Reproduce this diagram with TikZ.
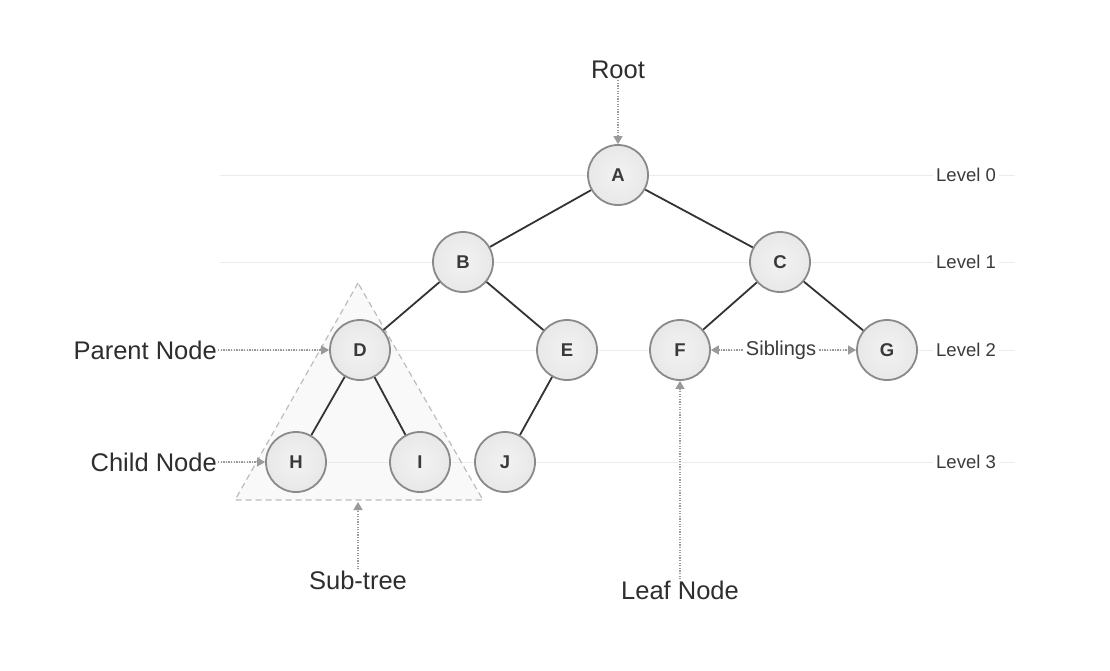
\documentclass[tikz,border=0pt]{standalone}
\usepackage{fontspec}
\setmainfont{Liberation Sans}
\usetikzlibrary{arrows.meta}
\definecolor{nodefill}{HTML}{E8E8E8}
\definecolor{nodeborder}{HTML}{8A8A8A}
\definecolor{edgecol}{HTML}{333333}
\definecolor{levelline}{HTML}{EBEBEB}
\definecolor{txt}{HTML}{3A3A3A}
\definecolor{labtxt}{HTML}{2E2E2E}
\definecolor{ptr}{HTML}{9A9A9A}
\definecolor{trifill}{HTML}{F9F9F9}
\definecolor{tridraw}{HTML}{BDBDBD}
\begin{document}
\begin{tikzpicture}[x=1pt,y=-1pt,
 tnode/.style={circle,draw=nodeborder,line width=1.8pt,inner color=nodefill!55!white,outer color=nodefill,minimum size=60pt,inner sep=0pt,font=\fontsize{18.5}{20}\selectfont\bfseries,text=txt},
 edge/.style={draw=edgecol,line width=1.8pt},
 lvl/.style={draw=levelline,line width=0.9pt},
 lvllab/.style={fill=white,inner sep=3pt,font=\fontsize{18.5}{22}\selectfont,text=txt},
 lab/.style={font=\fontsize{25.5}{28}\selectfont,text=labtxt,inner sep=1pt},
 pointer/.style={draw=ptr,line width=1.5pt,dash pattern=on 1.3pt off 1.3pt,-{Triangle[width=9pt,length=8pt,fill=ptr]}},
]
\useasboundingbox (0,0) rectangle (1110,670);
\fill[white] (0,0) rectangle (1110,670);

% sub-tree triangle
\coordinate (tApex) at (358,283);
\coordinate (tL) at (235,500);
\coordinate (tR) at (483,500);
\coordinate (tBase) at (358,502);
\fill[trifill] (tApex) -- (tL) -- (tR) -- cycle;

% level lines
\foreach \y in {175,262,350,462} \draw[lvl] (220,\y) -- (1015,\y);
\node[lvllab] (L0) at (966,175) {Level 0};
\node[lvllab] (L1) at (966,262) {Level 1};
\node[lvllab] (L2) at (966,350) {Level 2};
\node[lvllab] (L3) at (966,462) {Level 3};

\draw[draw=tridraw,line width=1.2pt,dash pattern=on 6pt off 4pt] (tApex) -- (tL) -- (tR) -- cycle;

% nodes
\node[tnode] (A) at (618,175) {A};
\node[tnode] (B) at (463,262) {B};
\node[tnode] (C) at (780,262) {C};
\node[tnode] (D) at (360,350) {D};
\node[tnode] (E) at (567,350) {E};
\node[tnode] (F) at (680,350) {F};
\node[tnode] (G) at (887,350) {G};
\node[tnode] (H) at (296,462) {H};
\node[tnode] (I) at (420,462) {I};
\node[tnode] (J) at (505,462) {J};

% edges
\draw[edge] (A) -- (B);
\draw[edge] (A) -- (C);
\draw[edge] (B) -- (D);
\draw[edge] (B) -- (E);
\draw[edge] (C) -- (F);
\draw[edge] (C) -- (G);
\draw[edge] (D) -- (H);
\draw[edge] (D) -- (I);
\draw[edge] (E) -- (J);

% labels
\node[lab] (root) at (618,70) {Root};
\node[lab,anchor=east] (parent) at (218,350) {Parent Node};
\node[lab,anchor=east] (child) at (218,462) {Child Node};
\node[lab] (sub) at (358,580) {Sub-tree};
\node[lab] (leaf) at (680,590) {Leaf Node};
\node[fill=white,inner sep=3pt,font=\fontsize{20}{22}\selectfont,text=txt] (sib) at (781,350) {Siblings};

% pointers
\draw[pointer] (root) -- (A);
\draw[pointer] (parent) -- (D);
\draw[pointer] (child) -- (H);
\draw[pointer] (sub) -- (tBase);
\draw[pointer] (leaf) -- (F);
\draw[pointer] (sib) -- (F);
\draw[pointer] (sib) -- (G);
\end{tikzpicture}
\end{document}
